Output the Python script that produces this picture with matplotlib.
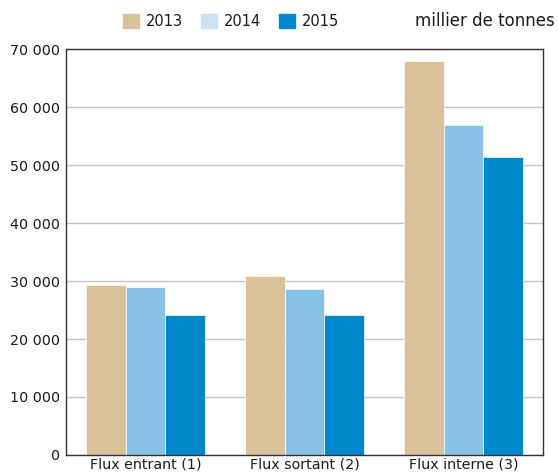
import numpy as np
import matplotlib.pyplot as plt
from matplotlib.patches import Patch
from matplotlib.ticker import FuncFormatter

categories = ["Flux entrant (1)", "Flux sortant (2)", "Flux interne (3)"]
years = ["2013", "2014", "2015"]
v2013 = [29300, 30900, 67900]
v2014 = [29000, 28600, 56900]
v2015 = [24100, 24100, 51400]

bar_colors = ["#d9c29a", "#88c2e7", "#0088cc"]
legend_colors = ["#d9c29a", "#cce2f3", "#0088cc"]

fig = plt.figure(figsize=(5.58, 4.74), dpi=100)
ax = fig.add_axes([66 / 558, 1 - 455 / 474, 477 / 558, 406 / 474])

x = np.arange(len(categories))
w = 0.25
for i, vals in enumerate([v2013, v2014, v2015]):
    ax.bar(x + (i - 1) * w, vals, w, color=bar_colors[i], edgecolor="white",
           linewidth=0.5, zorder=3)

ax.set_xlim(-0.5, 2.5)
ax.set_ylim(0, 70000)
ax.set_yticks(range(0, 70001, 10000))
ax.yaxis.set_major_formatter(FuncFormatter(lambda v, p: f"{int(v):,}".replace(",", " ")))
ax.set_xticks(x)
ax.set_xticklabels(categories)
ax.grid(axis="y", color="#c4c4c4", linewidth=1, zorder=0)
for s in ax.spines.values():
    s.set_color("#333333")
    s.set_linewidth(1)
    s.set_zorder(4)
ax.tick_params(axis="both", length=0, labelsize=10.3, colors="#1a1a1a", pad=2)
ax.tick_params(axis="y", pad=4)

handles = [Patch(color=c) for c in legend_colors]
fig.legend(handles, years, loc="center", bbox_to_anchor=(231 / 558, 1 - 21 / 474),
           ncol=3, frameon=False, fontsize=10.5, handlelength=1.1, handleheight=1.1,
           columnspacing=1.2, handletextpad=0.48, labelcolor="#1a1a1a")
fig.text(555 / 558, 1 - 21 / 474, "millier de tonnes", ha="right", va="center",
         fontsize=12, color="#1a1a1a")

fig.savefig("out.png", dpi=100)
